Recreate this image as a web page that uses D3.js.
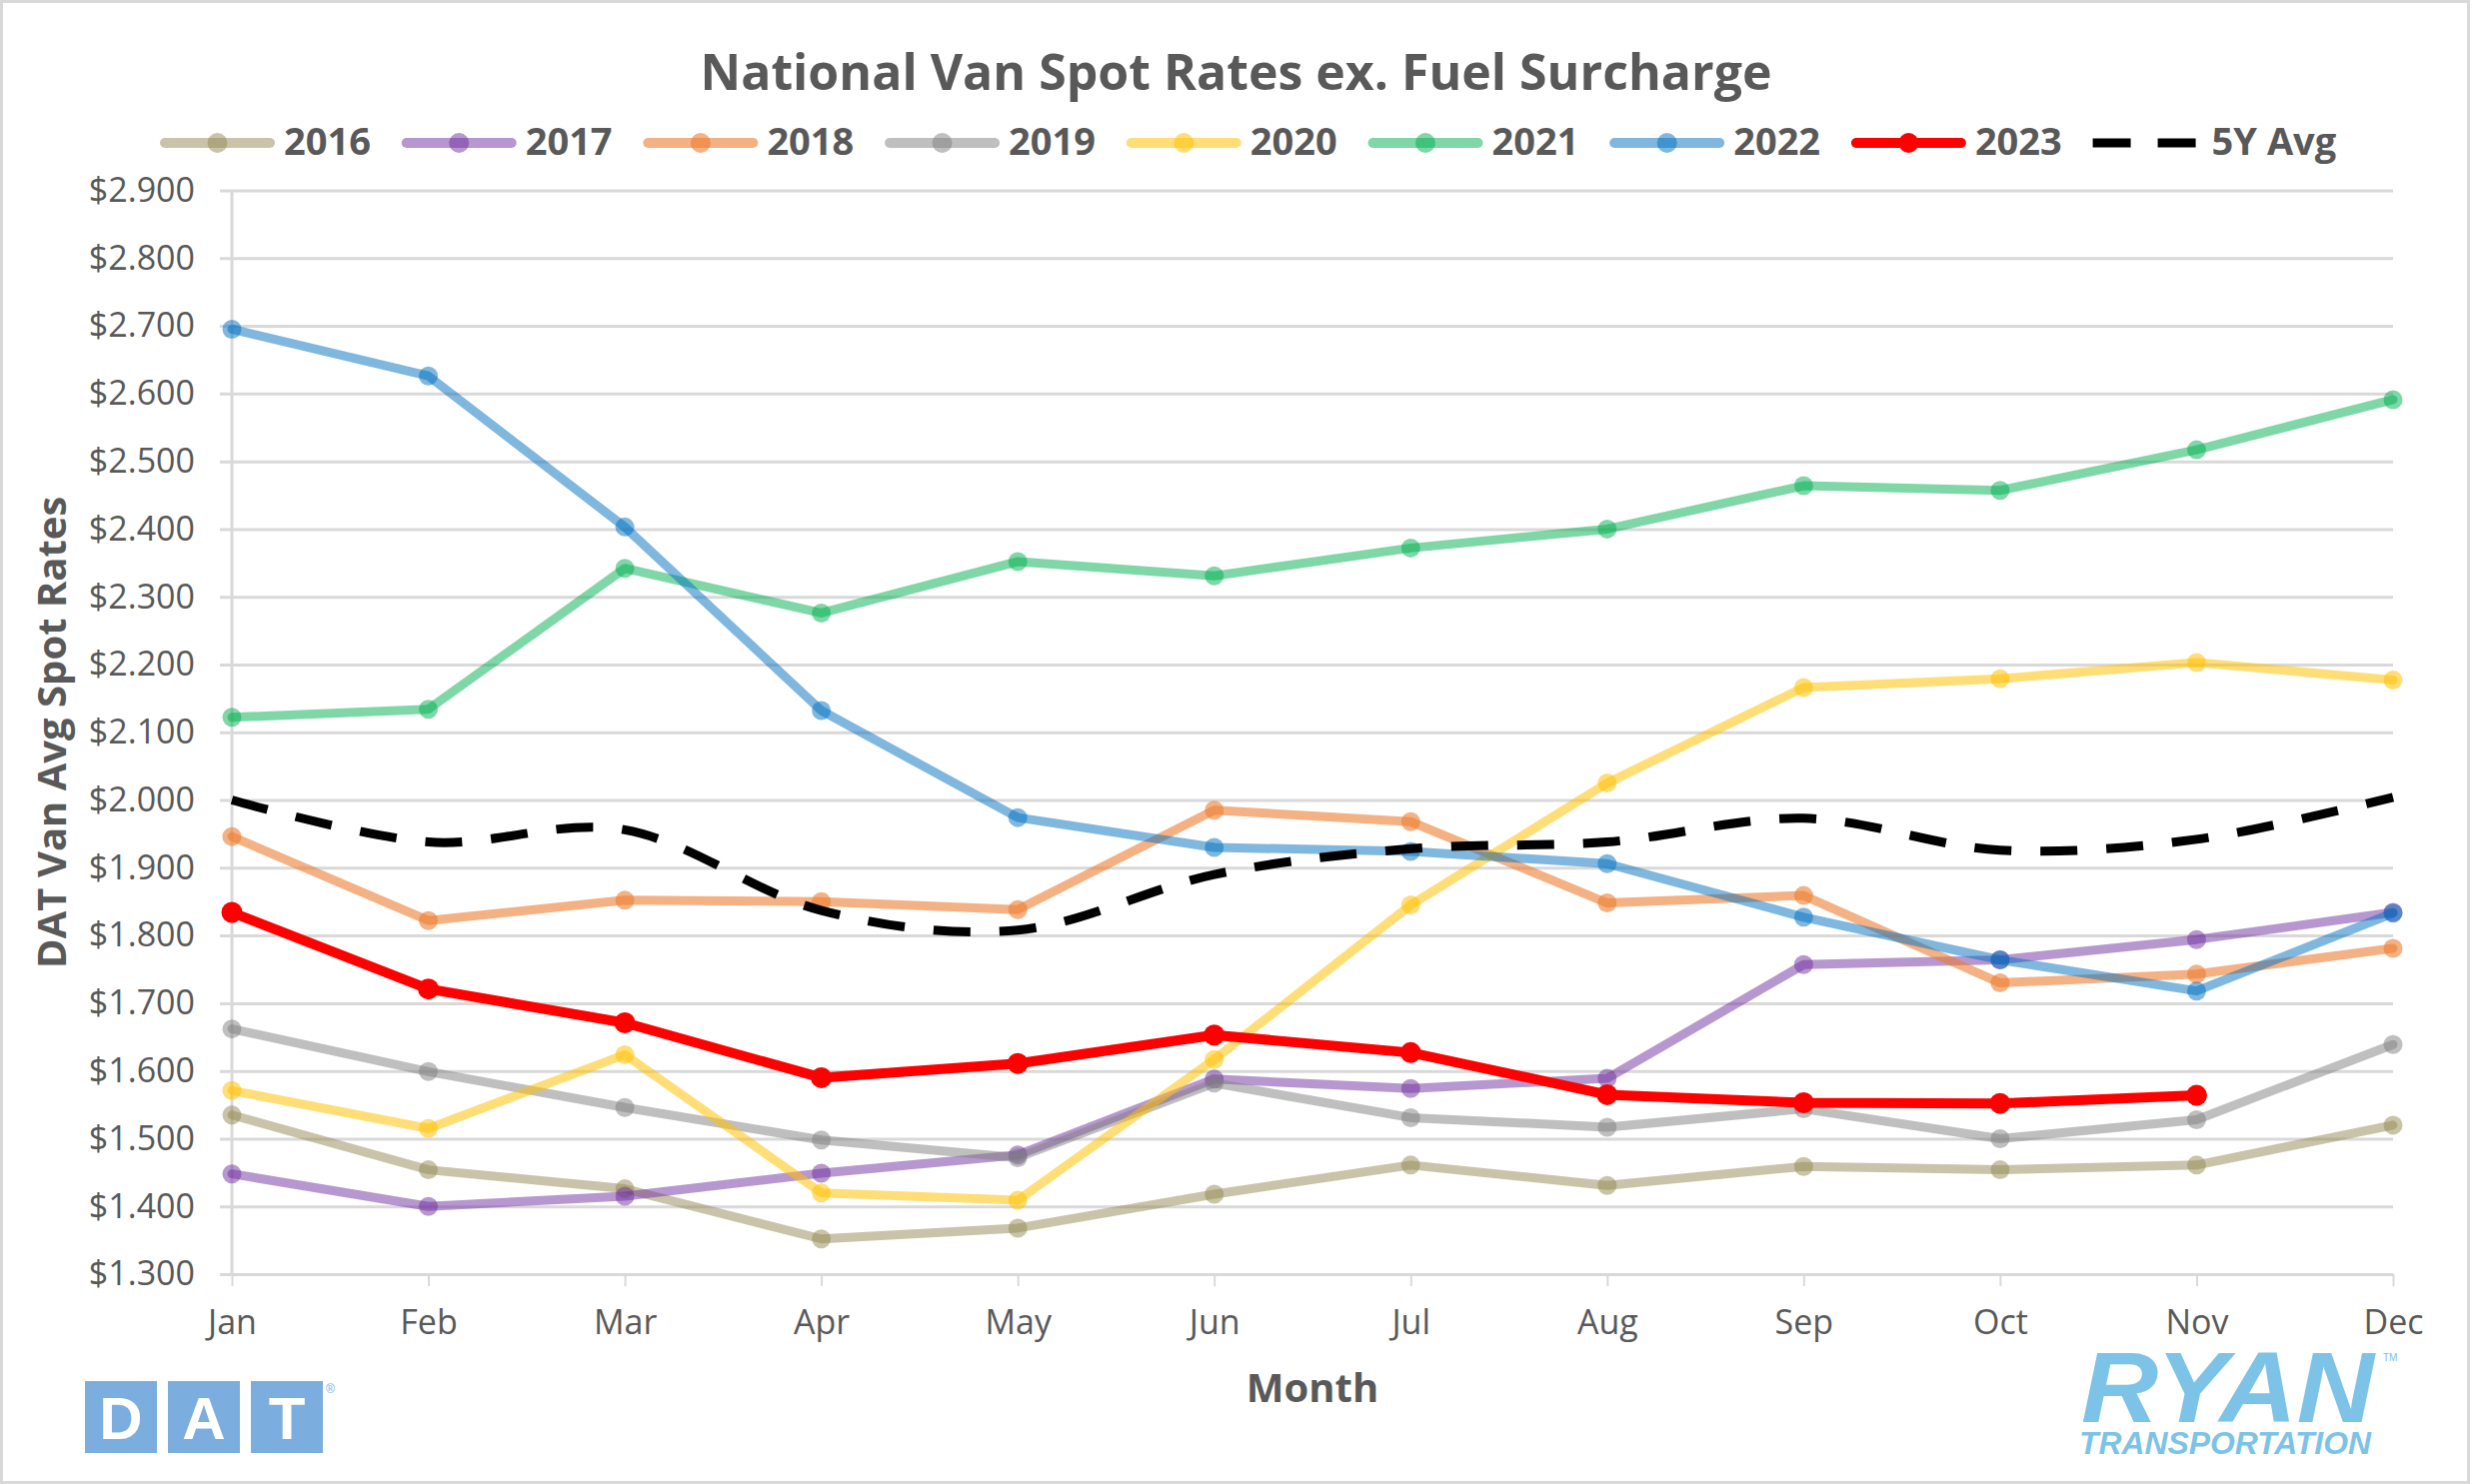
<!DOCTYPE html>
<html>
<head>
<meta charset="utf-8">
<script src="https://cdn.jsdelivr.net/npm/d3@7"></script>
<style>
  body { margin: 0; background: #ffffff; }
  svg { display: block; }
  text { font-family: "Open Sans", "Noto Sans", sans-serif; }
</style>
</head>
<body>
<svg id="chart" width="2473" height="1485"></svg>
<script>
// ---------------- DATA ----------------
const months = ["Jan","Feb","Mar","Apr","May","Jun","Jul","Aug","Sep","Oct","Nov","Dec"];
const seriesNames = ["2016","2017","2018","2019","2020","2021","2022","2023"];
const avgName = "5Y Avg";

const rates2016 = [1.535,1.454,1.426,1.352,1.368,1.418,1.461,1.431,1.459,1.454,1.461,1.520];
const rates2017 = [1.448,1.400,1.415,1.449,1.476,1.588,1.574,1.589,1.757,1.764,1.794,1.834];
const rates2018 = [1.946,1.822,1.852,1.850,1.838,1.985,1.968,1.848,1.859,1.730,1.743,1.781];
const rates2019 = [1.662,1.599,1.546,1.498,1.472,1.582,1.531,1.517,1.544,1.500,1.528,1.639];
const rates2020 = [1.571,1.515,1.624,1.420,1.409,1.617,1.845,2.025,2.166,2.179,2.203,2.177];
const rates2021 = [2.122,2.134,2.342,2.276,2.352,2.331,2.372,2.400,2.464,2.457,2.517,2.591];
const rates2022 = [2.695,2.626,2.403,2.132,1.974,1.930,1.924,1.906,1.827,1.764,1.718,1.833];
const rates2023 = [1.834,1.721,1.671,1.590,1.611,1.653,1.627,1.565,1.553,1.552,1.564];
const rates5YAvg = [2.000,1.938,1.956,1.837,1.808,1.890,1.928,1.938,1.973,1.926,1.942,2.004];

const yTicks = [1.3,1.4,1.5,1.6,1.7,1.8,1.9,2.0,2.1,2.2,2.3,2.4,2.5,2.6,2.7,2.8,2.9];

const chartTitle = "National Van Spot Rates ex. Fuel Surcharge";
const xAxisTitle = "Month";
const yAxisTitle = "DAT Van Avg Spot Rates";

// ---------------- STYLE ----------------
const seriesValues = [rates2016, rates2017, rates2018, rates2019, rates2020, rates2021, rates2022, rates2023];
const seriesColors = ["#948A54","#7030A0","#ED7D31","#7F7F7F","#FFC000","#00B050","#0070C0","#FF0000"];
const seriesOpacity = [0.5,0.5,0.6,0.5,0.53,0.5,0.5,1];
const textColor = "#595959";
const gridColor = "#D9D9D9";

const W = 2473, H = 1485;
const plot = { left: 232, right: 2394, top: 190.5, bottom: 1275 };

const svg = d3.select("#chart");

// background + outer border
svg.append("rect").attr("x",0).attr("y",0).attr("width",W).attr("height",H).attr("fill","#fff");
svg.append("rect").attr("x",1.5).attr("y",1.5).attr("width",W-5).attr("height",H-3)
  .attr("fill","none").attr("stroke",gridColor).attr("stroke-width",3);

// scales
const x = d3.scalePoint().domain(months).range([plot.left, plot.right]);
const y = d3.scaleLinear().domain([1.3, 2.9]).range([plot.bottom, plot.top]);

// y axis with gridlines
const yAxisG = svg.append("g").attr("transform", `translate(${plot.left - 12},0)`)
  .call(d3.axisLeft(y).tickValues(yTicks).tickSize(-(plot.right - plot.left + 12)).tickPadding(25)
        .tickFormat(d => "$" + d.toFixed(3)));
yAxisG.select(".domain").remove();
yAxisG.selectAll(".tick line").attr("stroke", gridColor).attr("stroke-width", 3);
yAxisG.selectAll(".tick text").attr("fill", textColor).style("font-size","34px")
  .style("font-family","'Open Sans', sans-serif");

// vertical axis line
svg.append("line").attr("x1",plot.left).attr("x2",plot.left).attr("y1",plot.top).attr("y2",plot.bottom)
  .attr("stroke",gridColor).attr("stroke-width",3);

// x axis
const xAxisG = svg.append("g").attr("transform", `translate(0,${plot.bottom})`)
  .call(d3.axisBottom(x).tickSize(12).tickSizeOuter(0));
xAxisG.select(".domain").remove();
xAxisG.selectAll(".tick line").attr("stroke", gridColor).attr("stroke-width", 2);
xAxisG.selectAll(".tick text").attr("fill", textColor).style("font-size","34px")
  .style("font-family","'Open Sans', sans-serif").attr("y", 60).attr("dy", 0);

// lines
const lineGen = d3.line().x((d,i) => x(months[i])).y(d => y(d));

seriesValues.forEach((vals, si) => {
  const g = svg.append("g");
  const isRed = si === 7;
  g.append("path").datum(vals).attr("d", lineGen)
    .attr("fill","none").attr("stroke", seriesColors[si]).attr("stroke-opacity", seriesOpacity[si])
    .attr("stroke-width", isRed ? 10 : 9).attr("stroke-linejoin","round").attr("stroke-linecap","round");
  g.selectAll("circle").data(vals).join("circle")
    .attr("cx",(d,i) => x(months[i])).attr("cy", d => y(d)).attr("r", isRed ? 10.5 : 9.5)
    .attr("fill", seriesColors[si]).attr("fill-opacity", seriesOpacity[si]);
});

// 5Y average (smoothed dashed)
const smoothGen = d3.line().x((d,i) => x(months[i])).y(d => y(d)).curve(d3.curveCardinal.tension(0));
svg.append("path").datum(rates5YAvg).attr("d", smoothGen)
  .attr("fill","none").attr("stroke","#000").attr("stroke-width",9).attr("stroke-dasharray","37,29");

// title
svg.append("text").attr("x", W/2).attr("y", 90).attr("text-anchor","middle")
  .attr("fill", textColor).style("font-weight","700").style("font-size","50px").text(chartTitle);

// legend
const legendX0 = 160, legendStep = 241.7, legendY = 143;
seriesNames.forEach((name, si) => {
  const lx = legendX0 + si * legendStep;
  const g = svg.append("g");
  g.append("line").attr("x1", lx + 5).attr("x2", lx + 110).attr("y1", legendY).attr("y2", legendY)
    .attr("stroke", seriesColors[si]).attr("stroke-opacity", seriesOpacity[si])
    .attr("stroke-width", 10).attr("stroke-linecap","round");
  g.append("circle").attr("cx", lx + 57.5).attr("cy", legendY).attr("r", 10)
    .attr("fill", seriesColors[si]).attr("fill-opacity", seriesOpacity[si]);
  g.append("text").attr("x", lx + 124).attr("y", 155).attr("fill", textColor)
    .style("font-weight","700").style("font-size","38px").text(name);
});
{
  const lx = legendX0 + 8 * legendStep;
  svg.append("line").attr("x1", lx).attr("x2", lx + 104).attr("y1", legendY).attr("y2", legendY)
    .attr("stroke","#000").attr("stroke-width",9).attr("stroke-dasharray","38,27");
  svg.append("text").attr("x", lx + 119).attr("y", 155).attr("fill", textColor)
    .style("font-weight","700").style("font-size","38px").text(avgName);
}

// axis titles
svg.append("text").attr("x", (plot.left + plot.right)/2).attr("y", 1403).attr("text-anchor","middle")
  .attr("fill", textColor).style("font-weight","700").style("font-size","40px").text(xAxisTitle);
svg.append("text").attr("transform", `translate(66,${(plot.top + plot.bottom)/2}) rotate(-90)`)
  .attr("text-anchor","middle").attr("fill", textColor)
  .style("font-weight","700").style("font-size","40px").text(yAxisTitle);

// DAT logo
const datLetters = ["D","A","T"];
const datColor = "#7BAEDE";
datLetters.forEach((ch, i) => {
  const bx = 85 + i * 83;
  svg.append("rect").attr("x", bx).attr("y", 1382).attr("width", 72).attr("height", 72).attr("fill", datColor);
  svg.append("text").attr("x", bx + 36).attr("y", 1440).attr("text-anchor","middle").attr("fill","#fff")
    .style("font-family","'Liberation Sans', Arial, sans-serif").style("font-weight","700")
    .style("font-size","60px").text(ch);
});
svg.append("text").attr("x", 326).attr("y", 1394).attr("fill", datColor)
  .style("font-family","'Liberation Sans', Arial, sans-serif").style("font-size","12px").text("®");

// RYAN Transportation logo
const ryanColor = "#7CC3E7";
svg.append("text").attr("x", 2082).attr("y", 1423).attr("fill", ryanColor)
  .attr("textLength", 293).attr("lengthAdjust","spacingAndGlyphs")
  .style("font-family","'Liberation Sans', Arial, sans-serif").style("font-weight","700")
  .style("font-style","italic").style("font-size","100px").text("RYAN");
svg.append("text").attr("x", 2080).attr("y", 1455).attr("fill", ryanColor)
  .attr("textLength", 292).attr("lengthAdjust","spacingAndGlyphs")
  .style("font-family","'Liberation Sans', Arial, sans-serif").style("font-weight","700")
  .style("font-style","italic").style("font-size","31px").text("TRANSPORTATION");
svg.append("text").attr("x", 2384).attr("y", 1362).attr("fill", ryanColor)
  .style("font-family","'Liberation Sans', Arial, sans-serif").style("font-size","10px").text("TM");
</script>
</body>
</html>
